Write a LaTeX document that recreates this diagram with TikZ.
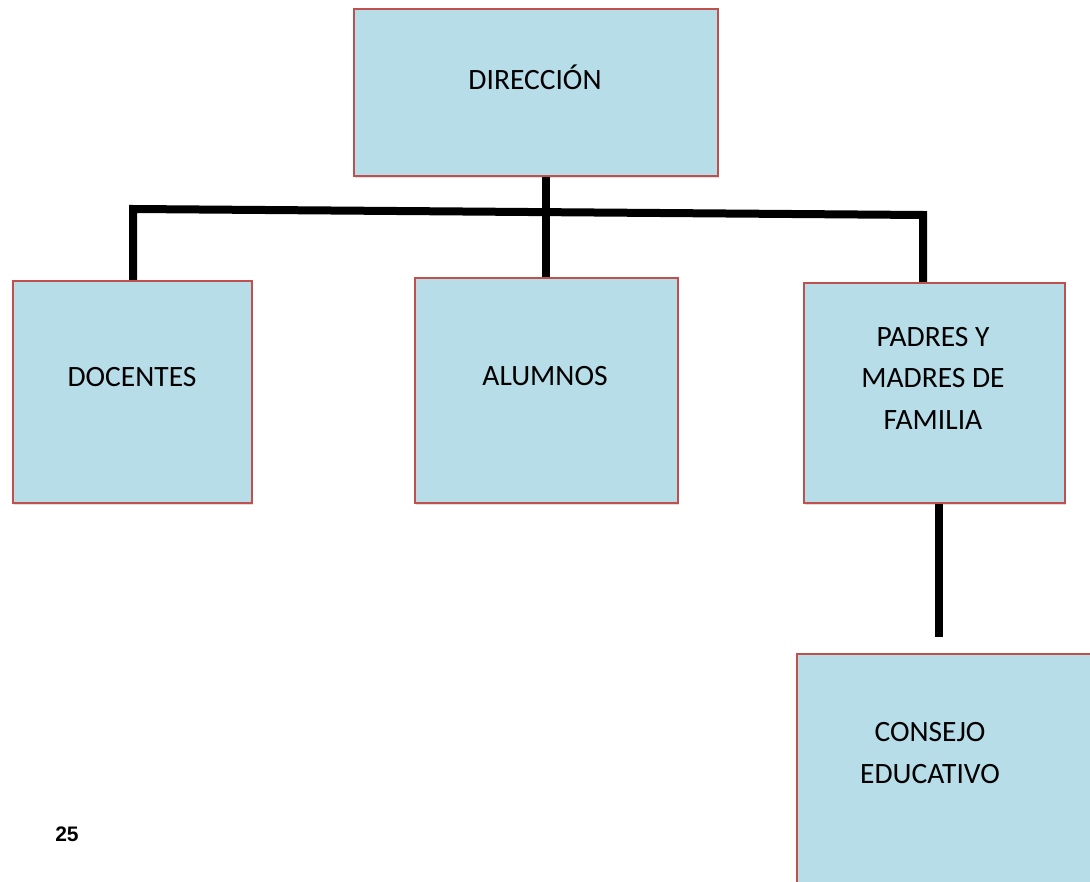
\documentclass[tikz,border=0pt]{standalone}
\usepackage{fontspec}
\setmainfont{Carlito}
\newfontfamily\pagefont{Liberation Sans}
\usetikzlibrary{shadows}
\definecolor{boxfill}{HTML}{B7DDE8}
\definecolor{boxline}{HTML}{C0504D}

\begin{document}
\begin{tikzpicture}[x=1pt,y=-1pt]
% Styles
\tikzstyle{box}=[draw=boxline, fill=boxfill, line width=1.8pt, inner sep=0pt, anchor=north west,
  drop shadow={shadow xshift=1.5pt, shadow yshift=-2.5pt, opacity=.22, fill=black!60}]
\tikzstyle{information text}=[align=center, text=black, font=\fontsize{29.5}{41.5}\selectfont]
\tikzstyle{link}=[line width=8pt, black, line join=miter]

\clip (0,0) rectangle (1090,882);

% draw the nodes
\foreach \name / \xa / \ya / \xb / \yb in {dir/353/8/717/175, doc/12/280/251/502,
alu/414/277/677/502, pad/803/282/1064/502, con/796/653/1120/920} {
\pgfmathsetmacro{\w}{\xb-\xa}
\pgfmathsetmacro{\h}{\yb-\ya}
\node[box, minimum width=\w pt, minimum height=\h pt] (\name) at (\xa,\ya) {};
}

% the texts, a bit above the middle of each box
\node[information text] (tdir) at (535,77) {DIRECCIÓN};
\node[information text] (tdoc) at (132,377) {DOCENTES};
\node[information text] (talu) at (545,376) {ALUMNOS};
\node[information text] (tpad) at (933,378) {PADRES Y\\MADRES DE\\FAMILIA};
\node[information text] (tcon) at (930,753) {CONSEJO\\EDUCATIVO};

% the lines between the boxes
\coordinate (busL) at (133,209);
\coordinate (busR) at (923,215);
\coordinate (padend) at (939,637);
\draw[link] (alu.north |- dir.south) -- (alu.north);
\draw[link] (doc.north -| busL) -- (busL) -- (busR) -- (busR |- pad.north);
\draw[link] (padend |- pad.south) -- (padend);

\node[font=\pagefont\bfseries\fontsize{21}{24}\selectfont] (page) at (67,834) {25};

\end{tikzpicture}
\end{document}
